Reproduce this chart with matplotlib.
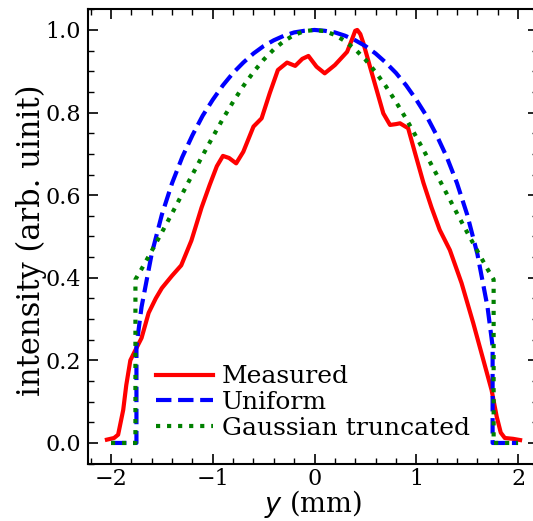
import matplotlib
matplotlib.use("Agg")
import matplotlib.pyplot as plt
from matplotlib.ticker import MultipleLocator

plt.rcParams['font.family'] = ['DejaVu Serif']
plt.rcParams['mathtext.fontset'] = 'dejavusans'

# measured profile
y_meas = [-2.04, -1.97, -1.93, -1.88, -1.85, -1.81, -1.76, -1.70, -1.63, -1.56,
          -1.50, -1.40, -1.31, -1.21, -1.11, -1.03, -0.96, -0.90, -0.84, -0.77,
          -0.70, -0.60, -0.52, -0.44, -0.36, -0.27, -0.19, -0.12, -0.06, 0.02,
          0.10, 0.20, 0.32, 0.365, 0.40, 0.42, 0.45, 0.48, 0.545, 0.61,
          0.676, 0.742, 0.80, 0.84, 0.92, 0.99, 1.07, 1.15, 1.23, 1.33,
          1.445, 1.56, 1.66, 1.74, 1.79, 1.83, 1.87, 1.95, 2.02]
i_meas = [0.008, 0.012, 0.02, 0.08, 0.14, 0.20, 0.225, 0.254, 0.315, 0.35,
          0.375, 0.405, 0.43, 0.49, 0.57, 0.625, 0.67, 0.695, 0.69, 0.677,
          0.705, 0.766, 0.786, 0.847, 0.903, 0.921, 0.913, 0.93, 0.937, 0.911,
          0.895, 0.915, 0.947, 0.975, 0.998, 1.0, 0.99, 0.968, 0.911, 0.855,
          0.798, 0.77, 0.772, 0.774, 0.762, 0.70, 0.63, 0.57, 0.516, 0.467,
          0.387, 0.29, 0.20, 0.128, 0.064, 0.025, 0.012, 0.01, 0.007]

# uniform model
y_unif = [-2.0, -1.75, -1.75, -1.7, -1.6, -1.5, -1.4, -1.3, -1.2, -1.1, -1.0,
          -0.9, -0.8, -0.7, -0.6, -0.5, -0.4, -0.3, -0.2, -0.1, 0.0,
          0.1, 0.2, 0.3, 0.4, 0.5, 0.6, 0.7, 0.8, 0.9, 1.0,
          1.1, 1.2, 1.3, 1.4, 1.5, 1.6, 1.7, 1.75, 1.75, 2.0]
i_unif = [0.0, 0.0, 0.234, 0.329, 0.458, 0.553, 0.629, 0.692, 0.745, 0.792, 0.831,
          0.866, 0.896, 0.921, 0.943, 0.961, 0.975, 0.986, 0.994, 0.998, 1.0,
          0.998, 0.994, 0.986, 0.975, 0.961, 0.943, 0.921, 0.896, 0.866, 0.831,
          0.792, 0.745, 0.692, 0.629, 0.553, 0.458, 0.329, 0.234, 0.0, 0.0]

# truncated gaussian model
y_gaus = [-2.0, -1.76, -1.76, -1.7, -1.6, -1.5, -1.4, -1.3, -1.2, -1.1, -1.0,
          -0.9, -0.8, -0.7, -0.6, -0.5, -0.4, -0.3, -0.2, -0.1, 0.0,
          0.1, 0.2, 0.3, 0.4, 0.5, 0.6, 0.7, 0.8, 0.9, 1.0,
          1.1, 1.2, 1.3, 1.4, 1.5, 1.6, 1.7, 1.76, 1.76, 2.0]
i_gaus = [0.0, 0.0, 0.396, 0.421, 0.465, 0.510, 0.556, 0.603, 0.650, 0.696, 0.741,
          0.785, 0.826, 0.864, 0.898, 0.928, 0.953, 0.973, 0.988, 0.997, 1.0,
          0.997, 0.988, 0.973, 0.953, 0.928, 0.898, 0.864, 0.826, 0.785, 0.741,
          0.696, 0.650, 0.603, 0.556, 0.510, 0.465, 0.421, 0.396, 0.0, 0.0]

fig = plt.figure(figsize=(5.33, 5.21), dpi=100)
ax = fig.add_axes([87.6 / 533, 57.4 / 521, 450.8 / 533, 454.3 / 521])

ax.plot(y_meas, i_meas, color='red', lw=3, label='Measured')
ax.plot(y_unif, i_unif, color='blue', lw=3, ls='--', label='Uniform')
ax.plot(y_gaus, i_gaus, color='green', lw=3, ls=':', label='Gaussian truncated')

ax.set_xlim(-2.23, 2.2)
ax.set_ylim(-0.05, 1.05)
ax.xaxis.set_major_locator(MultipleLocator(1))
ax.xaxis.set_minor_locator(MultipleLocator(0.2))
ax.yaxis.set_major_locator(MultipleLocator(0.2))
ax.yaxis.set_minor_locator(MultipleLocator(0.05))
ax.tick_params(which='both', direction='in', top=True, right=True, labelsize=16)
ax.tick_params(which='major', length=7, width=1.2, pad=5)
ax.tick_params(axis='x', which='major', pad=3)
ax.tick_params(which='minor', length=4, width=1)
for s in ax.spines.values():
    s.set_linewidth(1.5)

ax.set_xlabel('$y$ (mm)', fontsize=19.5, labelpad=-1)
ax.set_ylabel('intensity (arb. uinit)', fontsize=22, labelpad=-1.5, y=0.492)

ax.legend(loc='upper left', bbox_to_anchor=(0.152, 0.216), frameon=False,
          fontsize=18, handlelength=2.27, labelspacing=0.11, handletextpad=0.36,
          borderpad=0, borderaxespad=0)

fig.savefig('out.png', dpi=100)
